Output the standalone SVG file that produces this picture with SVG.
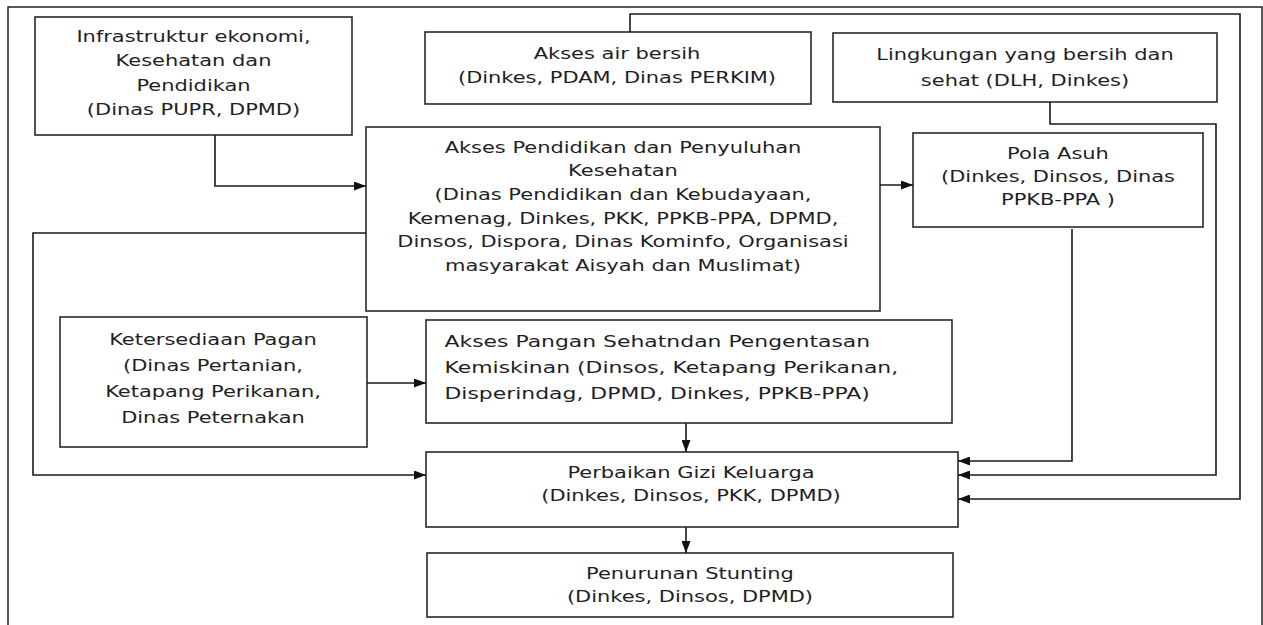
<svg xmlns="http://www.w3.org/2000/svg" width="1263" height="625" viewBox="0 0 1263 625">
<style>
.box{fill:#fff;stroke:#2a2a2a;stroke-width:1.6}
.t{font-family:"DejaVu Sans","Liberation Sans",sans-serif;font-size:16px;fill:#1e1e28;text-anchor:middle}
.l{text-anchor:start}
.c{fill:none;stroke:#1a1a1a;stroke-width:1.6}
.frame{fill:none;stroke:#222;stroke-width:1.5}
</style>
<defs>
<marker id="ah" markerUnits="userSpaceOnUse" markerWidth="12" markerHeight="9" refX="12" refY="4.5" orient="auto">
<path d="M0,0 L12,4.5 L0,9 z" fill="#111"/>
</marker>
</defs>
<rect width="1263" height="625" fill="#fff"/>
<path class="frame" d="M8,625 V7 H1262 V625"/>

<g id="n-infrastruktur">
<rect class="box" x="35" y="17" width="317" height="118"/>
<g transform="matrix(1.31 0 0 1 193.5 0)">
<text class="t" x="0" y="42">Infrastruktur ekonomi,</text>
<text class="t" x="0" y="66.5">Kesehatan dan</text>
<text class="t" x="0" y="91">Pendidikan</text>
<text class="t" x="0" y="115.5">(Dinas PUPR, DPMD)</text>
</g>
</g>

<g id="n-air">
<rect class="box" x="425" y="32" width="386" height="72"/>
<g transform="matrix(1.31 0 0 1 617 0)">
<text class="t" x="0" y="59.5">Akses air bersih</text>
<text class="t" x="0" y="83">(Dinkes, PDAM, Dinas PERKIM)</text>
</g>
</g>

<g id="n-lingkungan">
<rect class="box" x="833" y="33" width="384" height="69"/>
<g transform="matrix(1.31 0 0 1 1025 0)">
<text class="t" x="0" y="60">Lingkungan yang bersih dan</text>
<text class="t" x="0" y="86">sehat (DLH, Dinkes)</text>
</g>
</g>

<g id="n-pendidikan">
<rect class="box" x="366" y="127" width="514" height="184"/>
<g transform="matrix(1.31 0 0 1 623 0)">
<text class="t" x="0" y="153">Akses Pendidikan dan Penyuluhan</text>
<text class="t" x="0" y="176.5">Kesehatan</text>
<text class="t" x="0" y="200">(Dinas Pendidikan dan Kebudayaan,</text>
<text class="t" x="0" y="224">Kemenag, Dinkes, PKK, PPKB-PPA, DPMD,</text>
<text class="t" x="0" y="247.5">Dinsos, Dispora, Dinas Kominfo, Organisasi</text>
<text class="t" x="0" y="271">masyarakat Aisyah dan Muslimat)</text>
</g>
</g>

<g id="n-polaasuh">
<rect class="box" x="913" y="133" width="290" height="94"/>
<g transform="matrix(1.31 0 0 1 1058 0)">
<text class="t" x="0" y="159">Pola Asuh</text>
<text class="t" x="0" y="182.5">(Dinkes, Dinsos, Dinas</text>
<text class="t" x="0" y="205.5">PPKB-PPA )</text>
</g>
</g>

<g id="n-ketersediaan">
<rect class="box" x="60" y="317" width="307" height="130"/>
<g transform="matrix(1.31 0 0 1 213 0)">
<text class="t" x="0" y="345">Ketersediaan Pagan</text>
<text class="t" x="0" y="371">(Dinas Pertanian,</text>
<text class="t" x="0" y="397">Ketapang Perikanan,</text>
<text class="t" x="0" y="423">Dinas Peternakan</text>
</g>
</g>

<g id="n-pangan">
<rect class="box" x="426" y="320" width="526" height="103"/>
<g transform="matrix(1.37 0 0 1 444.5 0)">
<text class="t l" x="0" y="347">Akses Pangan Sehatndan Pengentasan</text>
<text class="t l" x="0" y="373">Kemiskinan (Dinsos, Ketapang Perikanan,</text>
<text class="t l" x="0" y="399">Disperindag, DPMD, Dinkes, PPKB-PPA)</text>
</g>
</g>

<g id="n-perbaikan">
<rect class="box" x="426" y="452" width="532" height="75"/>
<g transform="matrix(1.31 0 0 1 691 0)">
<text class="t" x="0" y="478.5">Perbaikan Gizi Keluarga</text>
<text class="t" x="0" y="501.5">(Dinkes, Dinsos, PKK, DPMD)</text>
</g>
</g>

<g id="n-penurunan">
<rect class="box" x="427" y="553" width="526" height="64"/>
<g transform="matrix(1.31 0 0 1 690 0)">
<text class="t" x="0" y="579">Penurunan Stunting</text>
<text class="t" x="0" y="602">(Dinkes, Dinsos, DPMD)</text>
</g>
</g>

<g id="connectors">
<path class="c" d="M215,135 V186 H366" marker-end="url(#ah)"/>
<path class="c" d="M880,185 H913" marker-end="url(#ah)"/>
<path class="c" d="M366,233 H33 V475 H426" marker-end="url(#ah)"/>
<path class="c" d="M367,383 H426" marker-end="url(#ah)"/>
<path class="c" d="M686,423 V452" marker-end="url(#ah)"/>
<path class="c" d="M686,527 V553" marker-end="url(#ah)"/>
<path class="c" d="M1072,229 V461 H958" marker-end="url(#ah)"/>
<path class="c" d="M1050,102 V124 H1216 V475 H958" marker-end="url(#ah)"/>
<path class="c" d="M630,32 V14 H1240 V499 H958" marker-end="url(#ah)"/>
</g>
</svg>
